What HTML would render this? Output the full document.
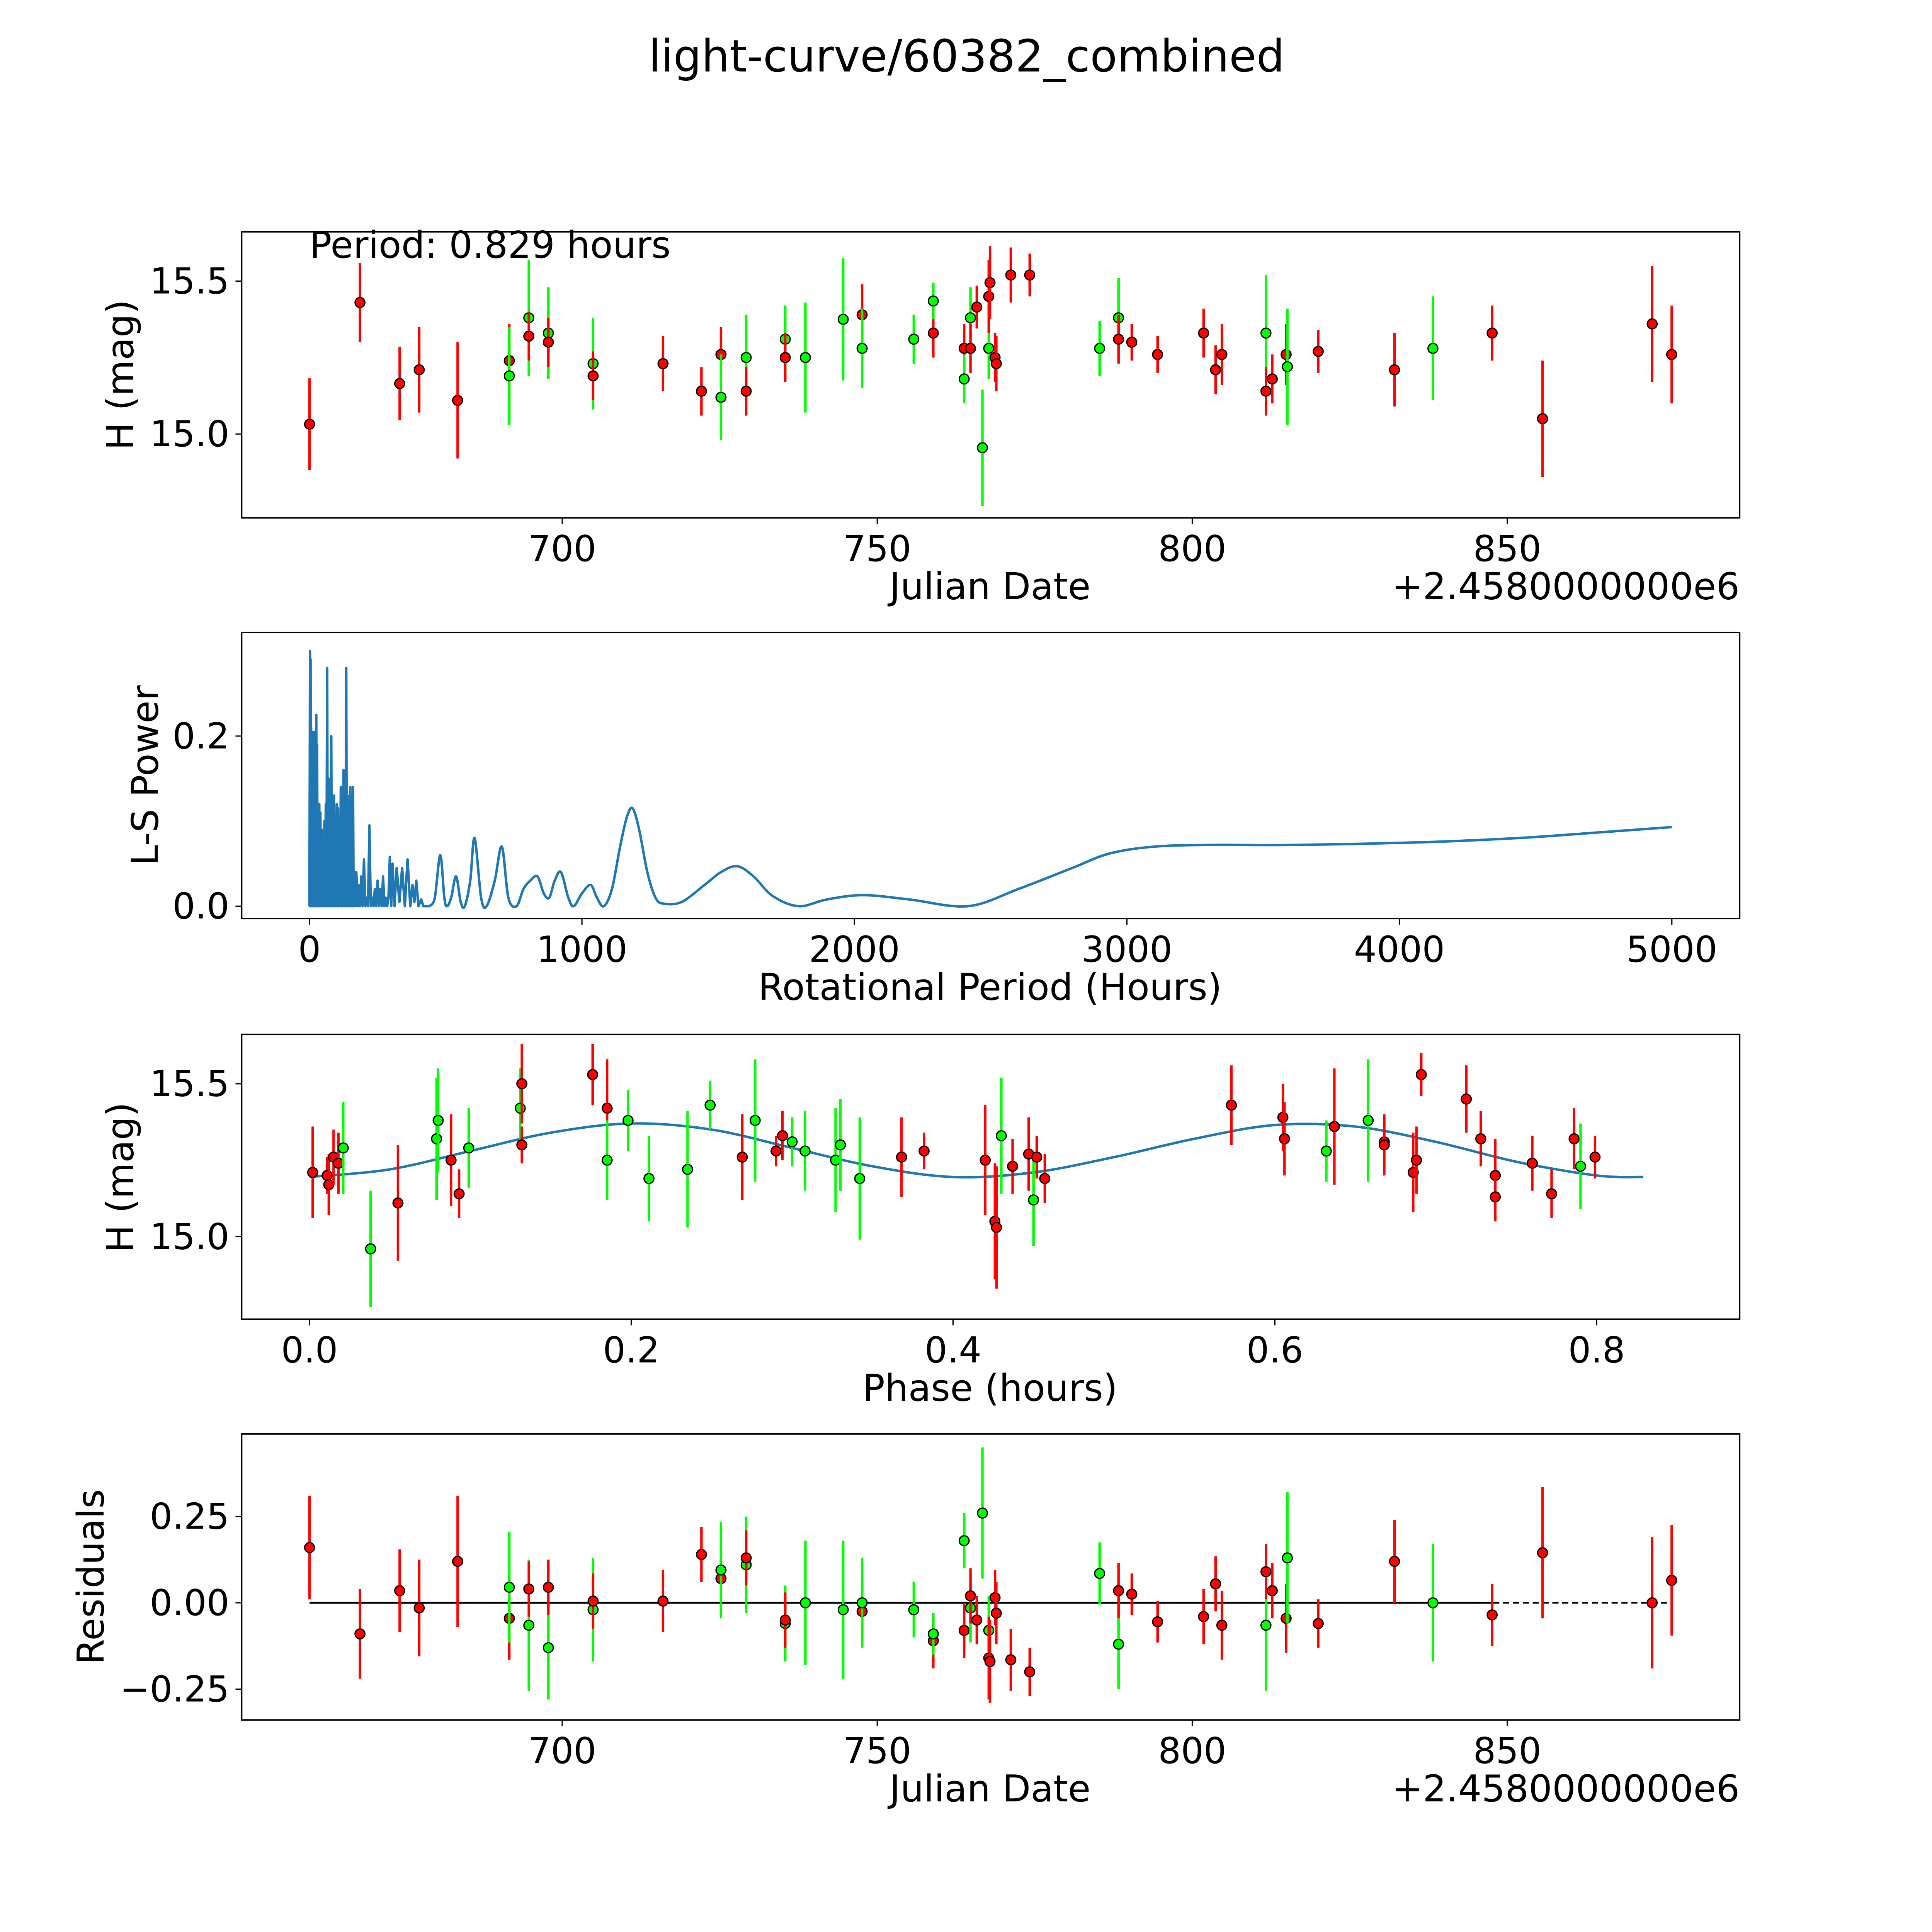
<!DOCTYPE html>
<html><head><meta charset="utf-8"><title>light-curve/60382_combined</title>
<style>
html,body{margin:0;padding:0;background:#fff;overflow:hidden;width:100vw;height:100vh;}
svg{display:block;width:100vw;height:100vh;font-family:"DejaVu Sans","Liberation Sans",sans-serif;}
</style></head>
<body>
<svg id="fig" viewBox="0 0 1567 1567" preserveAspectRatio="xMidYMid meet" xmlns="http://www.w3.org/2000/svg">
<rect width="1567" height="1567" fill="#fff"/>
<text x="784" y="58" font-size="36" text-anchor="middle">light-curve/60382_combined</text>
</svg>
<script>
// ---------- data ----------
const dates = [659.9,667.9,674.2,677.3,683.4,691.6,691.6,694.7,694.7,697.8,697.8,704.9,704.9,716.0,722.1,725.2,725.2,729.2,729.2,735.4,735.4,738.6,744.6,747.6,747.6,755.8,758.9,758.9,763.8,763.8,764.8,764.8,765.8,766.7,767.7,767.7,767.9,768.7,768.9,771.2,774.2,785.3,788.3,788.3,790.4,794.5,801.8,803.7,804.7,811.7,811.7,812.7,814.9,815.1,820.0,832.1,838.2,847.6,855.6,873.0,876.1];
const mags = [15.032,15.43,15.165,15.21,15.11,15.24,15.19,15.38,15.32,15.33,15.30,15.23,15.19,15.23,15.14,15.26,15.12,15.25,15.14,15.31,15.25,15.25,15.375,15.39,15.28,15.31,15.33,15.435,15.28,15.18,15.38,15.28,15.415,14.955,15.28,15.45,15.495,15.25,15.23,15.52,15.52,15.28,15.38,15.31,15.30,15.26,15.33,15.21,15.26,15.33,15.14,15.18,15.26,15.22,15.27,15.21,15.28,15.33,15.05,15.36,15.26];
const errs = [0.15,0.13,0.12,0.14,0.19,0.12,0.16,0.19,0.08,0.15,0.08,0.15,0.08,0.09,0.08,0.09,0.14,0.14,0.08,0.11,0.08,0.18,0.2,0.1,0.13,0.08,0.08,0.06,0.08,0.08,0.1,0.08,0.07,0.19,0.1,0.12,0.12,0.08,0.09,0.09,0.07,0.09,0.13,0.08,0.06,0.06,0.08,0.08,0.1,0.19,0.08,0.08,0.1,0.19,0.07,0.12,0.17,0.09,0.19,0.19,0.16];
const colors = ["r","r","r","r","r","r","g","g","r","g","r","g","r","r","r","r","g","g","r","g","r","g","g","r","g","g","r","g","r","g","g","r","r","g","g","r","r","r","r","r","r","g","g","r","r","r","r","r","r","g","r","r","r","g","r","r","g","r","r","r","r"];
const residuals = [0.16,-0.09,0.035,-0.015,0.12,-0.045,0.045,-0.065,0.04,-0.13,0.045,-0.02,0.005,0.005,0.14,0.07,0.095,0.11,0.13,-0.06,-0.05,0.0,-0.02,-0.025,0.0,-0.02,-0.11,-0.09,-0.08,0.18,-0.015,0.02,-0.05,0.26,-0.08,-0.16,-0.17,0.015,-0.03,-0.165,-0.2,0.085,-0.12,0.035,0.025,-0.055,-0.04,0.055,-0.065,-0.065,0.09,0.035,-0.045,0.13,-0.06,0.12,0.0,-0.035,0.145,0.0,0.065];

const phases = [0.002,0.011,0.012,0.015,0.018,0.021,0.038,0.055,0.079,0.080,0.088,0.093,0.099,0.131,0.132,0.132,0.176,0.185,0.185,0.198,0.211,0.235,0.249,0.269,0.277,0.290,0.294,0.300,0.308,0.327,0.330,0.342,0.368,0.382,0.420,0.426,0.427,0.430,0.437,0.447,0.450,0.452,0.457,0.573,0.605,0.606,0.632,0.637,0.658,0.668,0.668,0.686,0.688,0.691,0.719,0.728,0.737,0.737,0.760,0.772,0.786,0.790,0.799];
const phaseMags = [15.21,15.20,15.17,15.26,15.24,15.29,14.96,15.11,15.32,15.38,15.25,15.14,15.29,15.42,15.50,15.30,15.53,15.42,15.25,15.38,15.19,15.22,15.43,15.26,15.38,15.28,15.33,15.31,15.28,15.25,15.30,15.19,15.26,15.28,15.25,15.05,15.03,15.33,15.23,15.27,15.12,15.26,15.19,15.43,15.39,15.32,15.28,15.36,15.38,15.31,15.30,15.21,15.25,15.53,15.45,15.32,15.20,15.13,15.24,15.14,15.32,15.23,15.26];
const phaseErrs = [0.15,0.06,0.1,0.09,0.1,0.15,0.19,0.19,0.2,0.17,0.15,0.08,0.13,0.13,0.13,0.06,0.1,0.16,0.13,0.1,0.14,0.19,0.08,0.14,0.2,0.05,0.08,0.08,0.13,0.17,0.15,0.2,0.13,0.06,0.18,0.19,0.2,0.19,0.09,0.12,0.15,0.07,0.08,0.13,0.11,0.12,0.1,0.19,0.2,0.08,0.1,0.13,0.11,0.07,0.11,0.09,0.12,0.08,0.09,0.08,0.1,0.14,0.07];
const phaseColors = ["r","r","r","r","r","g","g","r","g","g","r","r","g","g","r","r","r","r","g","g","g","g","g","r","g","r","r","g","g","g","g","g","r","r","r","r","r","g","r","r","g","r","r","r","r","r","g","r","g","r","r","r","r","r","r","r","r","r","r","r","r","g","r"];

const modelPhase = [0,0.05,0.1,0.15,0.2,0.25,0.3,0.35,0.4,0.45,0.5,0.55,0.6,0.65,0.7,0.75,0.8,0.829];
const modelMag = [15.195,15.22,15.28,15.34,15.37,15.35,15.29,15.23,15.195,15.21,15.26,15.32,15.365,15.36,15.31,15.245,15.2,15.195];

const lsPeriod = [
0,2,3,4,5,6,7,8,9,10,
11,13,14,16,17,20,22,25,27,28,
30,32,34,36,38,40,42,45,47,50,
52,55,57,60,62,65,67,70,72,75,
77,80,82,85,87,90,92,95,97,100,
102,105,107,110,112,115,117,120,122,125,
127,130,132,135,137,140,142,145,147,150,
152,155,157,160,162,165,168,172,176,180,
185,190,195,200,205,210,215,220,225,230,
235,240,245,250,255,260,265,270,275,280,
285,290,295,300,305,312,320,330,340,350,
360,370,378,385,392,400,410,418,425,440,
460,480,495,505,520,538,555,570,590,606,
630,650,680,706,730,760,785,810,837,860,
880,900,923,950,970,1000,1032,1055,1080,1110,
1140,1165,1186,1210,1240,1270,1300,1366,1450,1510,
1570,1630,1700,1796,1900,2032,2200,2416,2600,2800,
2937,3100,3300,3615,4068,4430,4700,5000];
const lsPower = [
0,0.30,0,0.29,0,0.21,0,0.205,0,0.20,
0,0.205,0,0.13,0,0.205,0,0.225,0,0.19,
0,0.11,0,0.12,0,0.11,0,0.09,0,0.07,
0,0.10,0,0.12,0,0.28,0,0.15,0,0.09,
0,0.20,0,0.10,0,0.13,0,0.06,0,0.12,
0,0.115,0,0.07,0,0.14,0,0.14,0,0.16,
0,0.15,0,0.28,0,0.13,0,0.10,0,0.14,
0,0.13,0,0.14,0,0.04,0,0.04,0,0.025,
0,0.035,0,0.055,0,0.01,0,0.095,0,0.01,
0,0.02,0,0.03,0,0.02,0,0.035,0,0.01,
0,0.01,0.058,0,0.05,0,0.045,0.005,0.045,0,
0.055,0,0.025,0.005,0.03,0,0.008,0,0,0,
0.01,0.06,0.01,0,0.01,0.035,0.005,0,0.03,0.08,
0.01,0,0.03,0.07,0.01,0,0.02,0.03,0.035,0.015,
0.01,0.03,0.04,0.01,0,0.015,0.025,0.01,0,0.02,
0.07,0.105,0.115,0.09,0.04,0.01,0.003,0.005,0.025,0.04,
0.047,0.035,0.012,0,0.008,0.013,0.008,0,0.02,0.045,
0.062,0.07,0.072,0.072,0.075,0.08,0.086,0.093];

const dateTicks = [700,750,800,850];
const magTicks = [15.0,15.5];
const periodTicks = [0,1000,2000,3000,4000,5000];
const powerTicks = [0.0,0.2];
const phaseTicks = [0.0,0.2,0.4,0.6,0.8];
const residTicks = [0.25,0.0,-0.25];
const residTickLabels = ["0.25","0.00","\u22120.25"];

// ---------- helpers ----------
const svg = document.getElementById('fig');
const NS = 'http://www.w3.org/2000/svg';
function mk(tag, attrs, parent){const e=document.createElementNS(NS,tag);for(const k in attrs)e.setAttribute(k,attrs[k]);(parent||svg).appendChild(e);return e;}
const L=196,R=1411;
const P1={top:188,bot:420}, P2={top:513,bot:745}, P3={top:839,bot:1070}, P4={top:1163,bot:1395};
const xDate = d => 456 + (d-700)*5.11;
const yMag1 = m => 228 + (15.5-m)*248;
const xPer = p => 251 + p*0.221;
const yPow = v => 735 - v*690;
const xPh = p => 251 + p*1305;
const yMag3 = m => 879 + (15.5-m)*248;
const yRes = r => 1300 - r*280;
const col = c => c==='g' ? '#00ff00' : '#ff0000';

function smoothPath(X,Y){
  let d='';
  for(let i=0;i<X.length-1;i++){
    const x0=X[Math.max(i-1,0)],y0=Y[Math.max(i-1,0)],x3=X[Math.min(i+2,X.length-1)],y3=Y[Math.min(i+2,X.length-1)];
    const c1x=X[i]+(X[i+1]-x0)/6,c1y=Y[i]+(Y[i+1]-y0)/6,c2x=X[i+1]-(x3-X[i])/6,c2y=Y[i+1]-(y3-Y[i])/6;
    d+=' C'+c1x.toFixed(2)+','+c1y.toFixed(2)+' '+c2x.toFixed(2)+','+c2y.toFixed(2)+' '+X[i+1].toFixed(2)+','+Y[i+1].toFixed(2);
  }
  return d;
}
function frame(P,name){
  const r=mk('rect',{x:L,y:P.top,width:R-L,height:P.bot-P.top,fill:'none',stroke:'#000','stroke-width':1.2});
  
  
}
function xtick(x,P,label,name){
  mk('line',{x1:x,x2:x,y1:P.bot,y2:P.bot+5,stroke:'#000','stroke-width':1});
  const t=mk('text',{x:x,y:P.bot+35,'font-size':29,'text-anchor':'middle'});t.textContent=label;
  
  
}
function ytick(y,label,name){
  mk('line',{x1:L-5,x2:L,y1:y,y2:y,stroke:'#000','stroke-width':1});
  const t=mk('text',{x:L-10,y:y+10,'font-size':29,'text-anchor':'end'});t.textContent=label;
  
  
}
function label(x,y,txt,name,rot,anchor){
  const t=mk('text',{x:x,y:y,'font-size':30,'text-anchor':anchor||'middle'});
  if(rot) t.setAttribute('transform','rotate(-90 '+x+' '+y+')');
  t.textContent=txt;
  
  
}
function point(x,y,yl,yh,c,name){
  const g=mk('g',{});
  
  
  mk('line',{x1:x,x2:x,y1:yl,y2:yh,stroke:col(c),'stroke-width':2},g);
  mk('circle',{cx:x,cy:y,r:4,fill:col(c),stroke:'#000','stroke-width':1},g);
}

// ---------- panel 1 ----------
frame(P1,'light-curve-axes');
dateTicks.forEach(d=>xtick(xDate(d),P1,String(d),'date-tick-label'));
magTicks.forEach(m=>ytick(yMag1(m),m.toFixed(1),'mag-tick-label'));
label(803,486,'Julian Date','x-axis-title-julian-date');
label(1411,486,'+2.4580000000e6','x-axis-offset','', 'end');
label(108,304,'H (mag)','y-axis-title-mag',true);
{const t=mk('text',{x:251,y:209,'font-size':30});t.textContent='Period: 0.829 hours';

}
dates.forEach((d,i)=>point(xDate(d),yMag1(mags[i]),yMag1(mags[i]-errs[i]),yMag1(mags[i]+errs[i]),colors[i],'observation-point'));

// ---------- panel 2 ----------
frame(P2,'periodogram-axes');
periodTicks.forEach(p=>xtick(xPer(p),P2,String(p),'period-tick-label'));
powerTicks.forEach(v=>ytick(yPow(v),v.toFixed(1),'power-tick-label'));
label(803,811,'Rotational Period (Hours)','x-axis-title-period');
label(128,629,'L-S Power','y-axis-title-power',true);
{const n=Math.min(lsPeriod.length,lsPower.length);
const X=[],Y=[];for(let i=0;i<n;i++){X.push(xPer(lsPeriod[i]));Y.push(yPow(lsPower[i]));}
let split=X.findIndex((x,i)=>lsPeriod[i]>=440);if(split<0)split=n-1;
let d='M'+X[0].toFixed(2)+','+Y[0].toFixed(2);
for(let i=1;i<=split;i++)d+=' L'+X[i].toFixed(2)+','+Y[i].toFixed(2);
d+=smoothPath(X.slice(split),Y.slice(split));
const pl=mk('path',{d:d,fill:'none',stroke:'#1f77b4','stroke-width':2,'stroke-linejoin':'round'});

}

// ---------- panel 3 ----------
frame(P3,'phase-folded-axes');
phaseTicks.forEach(p=>xtick(xPh(p),P3,p.toFixed(1),'phase-tick-label'));
magTicks.forEach(m=>ytick(yMag3(m),m.toFixed(1),'mag-tick-label'));
label(803,1136,'Phase (hours)','x-axis-title-phase');
label(108,955,'H (mag)','y-axis-title-mag-phase',true);
{const X=modelPhase.map(xPh),Y=modelMag.map(yMag3);
const mp=mk('path',{d:'M'+X[0]+','+Y[0]+smoothPath(X,Y),fill:'none',stroke:'#1f77b4','stroke-width':2});

}
phases.forEach((p,i)=>point(xPh(p),yMag3(phaseMags[i]),yMag3(phaseMags[i]-phaseErrs[i]),yMag3(phaseMags[i]+phaseErrs[i]),phaseColors[i],'phase-point'));

// ---------- panel 4 ----------
frame(P4,'residuals-axes');
dateTicks.forEach(d=>xtick(xDate(d),P4,String(d),'date-tick-label'));
residTicks.forEach((r,i)=>ytick(yRes(r),residTickLabels[i],'residual-tick-label'));
label(803,1461,'Julian Date','x-axis-title-julian-date-residuals');
label(1411,1461,'+2.4580000000e6','x-axis-offset-residuals','', 'end');
label(84,1279,'Residuals','y-axis-title-residuals',true);
{const z=mk('line',{x1:xDate(dates[0]),x2:xDate(dates[dates.length-1]),y1:yRes(0),y2:yRes(0),stroke:'#000','stroke-width':1.3,'stroke-dasharray':'5,3'});


const s=mk('line',{x1:xDate(dates[0]),x2:xDate(847.6),y1:yRes(0),y2:yRes(0),stroke:'#000','stroke-width':1.5});

}
dates.forEach((d,i)=>point(xDate(d),yRes(residuals[i]),yRes(residuals[i]-errs[i]),yRes(residuals[i]+errs[i]),colors[i],'residual-point'));
</script>
</body></html>
